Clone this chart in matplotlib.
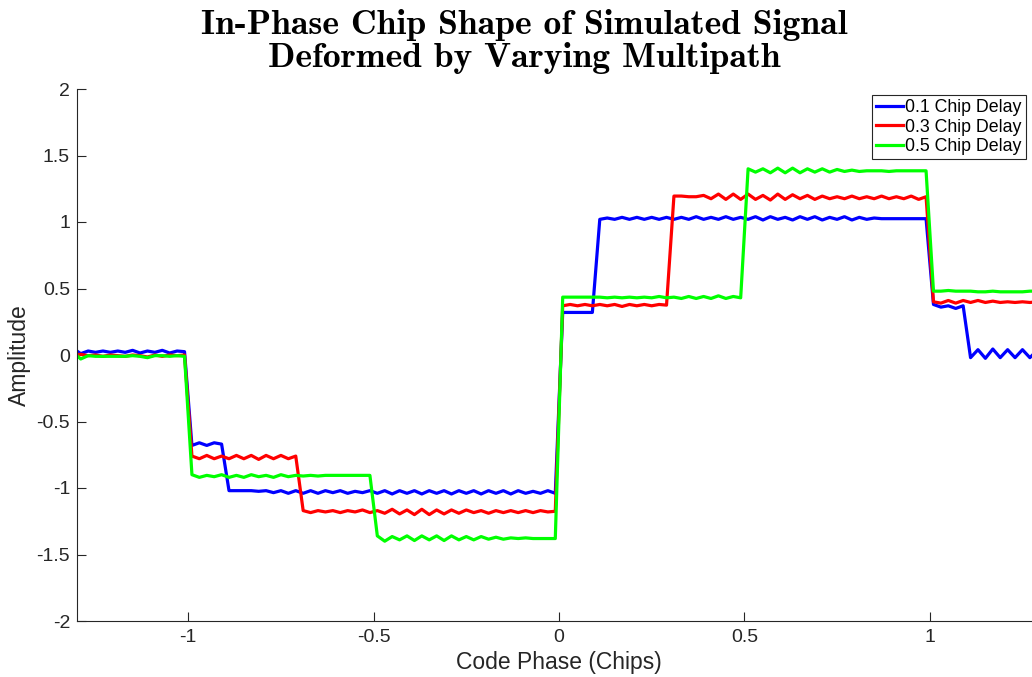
import matplotlib
matplotlib.use("Agg")
import matplotlib.pyplot as plt
import numpy as np

# code phase sample grid (chips), 0.02 chip spacing
phase = np.linspace(-1.31, 1.31, 132)

# in-phase amplitude per delay, grouped by chip segment
blue = [0.05, 0.01, 0.03, 0.02, 0.03, 0.02, 0.03, 0.02, 0.035, 0.015, 0.03, 0.02, 0.035, 0.015, 0.03, 0.025,
        -0.68, -0.66, -0.68, -0.66, -0.67,
        -1.02, -1.02, -1.02, -1.02, -1.025, -1.02, -1.035, -1.02, -1.04, -1.02,
        -1.04, -1.02, -1.04, -1.02, -1.035, -1.02, -1.04, -1.025, -1.035, -1.02,
        -1.04, -1.02, -1.045, -1.02, -1.04, -1.02, -1.045, -1.02, -1.04, -1.02, -1.045, -1.02, -1.04,
        -1.02, -1.045, -1.02, -1.04, -1.02, -1.045, -1.02, -1.04, -1.025, -1.04, -1.02, -1.04,
        0.32, 0.32, 0.32, 0.32, 0.32,
        1.02, 1.03, 1.02, 1.035, 1.02, 1.035, 1.02, 1.035, 1.02, 1.035,
        1.02, 1.035, 1.02, 1.04, 1.02, 1.035, 1.02, 1.04, 1.02, 1.035,
        1.02, 1.04, 1.015, 1.04, 1.02, 1.035, 1.015, 1.04, 1.02, 1.04, 1.015, 1.035, 1.02,
        1.04, 1.015, 1.035, 1.02, 1.03, 1.025, 1.025, 1.025, 1.025, 1.025, 1.025, 1.025,
        0.38, 0.36, 0.37, 0.35, 0.37,
        -0.02, 0.04, -0.025, 0.045, -0.02, 0.04, -0.02, 0.04, -0.02, 0.035, -0.01]

red = [0.0, 0.005, -0.005, 0.0, -0.01, 0.0, -0.005, -0.01, 0.0, -0.005, -0.015, 0.0, -0.01, 0.0, -0.005, 0.0,
       -0.76, -0.78, -0.755, -0.78, -0.76,
       -0.78, -0.755, -0.78, -0.755, -0.785, -0.755, -0.78, -0.755, -0.78, -0.76,
       -1.17, -1.185, -1.17, -1.18, -1.17, -1.185, -1.17, -1.18, -1.165, -1.185,
       -1.17, -1.19, -1.16, -1.195, -1.165, -1.2, -1.16, -1.2, -1.165, -1.195, -1.165, -1.19, -1.165,
       -1.185, -1.17, -1.19, -1.17, -1.185, -1.17, -1.185, -1.17, -1.185, -1.17, -1.18, -1.175,
       0.37, 0.38, 0.37, 0.38, 0.37,
       0.38, 0.37, 0.38, 0.365, 0.38, 0.37, 0.38, 0.37, 0.38, 0.375,
       1.195, 1.195, 1.19, 1.19, 1.2, 1.175, 1.21, 1.17, 1.21, 1.17,
       1.21, 1.17, 1.2, 1.165, 1.21, 1.17, 1.205, 1.175, 1.2, 1.17, 1.195, 1.175, 1.19,
       1.175, 1.195, 1.175, 1.19, 1.175, 1.195, 1.175, 1.19, 1.175, 1.195, 1.17, 1.19,
       0.4, 0.39, 0.41, 0.39, 0.41,
       0.395, 0.41, 0.395, 0.405, 0.395, 0.4, 0.395, 0.4, 0.395, 0.4, 0.39]

green = [0.02, -0.03, -0.005, -0.01, -0.01, -0.01, -0.01, -0.01, -0.005, -0.01, -0.02, -0.005, -0.005, -0.01, -0.005, -0.01,
         -0.9, -0.92, -0.905, -0.915, -0.9,
         -0.92, -0.905, -0.92, -0.9, -0.915, -0.905, -0.92, -0.9, -0.915, -0.905,
         -0.91, -0.905, -0.91, -0.905, -0.905, -0.905, -0.905, -0.905, -0.905, -0.905,
         -1.36, -1.4, -1.365, -1.39, -1.36, -1.395, -1.36, -1.39, -1.36, -1.395, -1.36, -1.39, -1.365,
         -1.39, -1.365, -1.385, -1.37, -1.385, -1.375, -1.38, -1.375, -1.38, -1.38, -1.38, -1.38,
         0.435, 0.435, 0.435, 0.435, 0.435,
         0.435, 0.43, 0.435, 0.43, 0.435, 0.43, 0.435, 0.43, 0.44, 0.43,
         0.435, 0.425, 0.44, 0.425, 0.44, 0.425, 0.445, 0.425, 0.44, 0.43,
         1.4, 1.375, 1.4, 1.37, 1.405, 1.37, 1.405, 1.37, 1.4, 1.375, 1.4, 1.375, 1.395,
         1.38, 1.39, 1.38, 1.385, 1.385, 1.385, 1.38, 1.385, 1.385, 1.385, 1.385, 1.385,
         0.48, 0.48, 0.485, 0.48, 0.48,
         0.48, 0.475, 0.475, 0.48, 0.475, 0.475, 0.475, 0.475, 0.48, 0.48, 0.475]

labels = ["0.1 Chip Delay", "0.3 Chip Delay", "0.5 Chip Delay"]
colors = [(0, 0, 1), (1, 0, 0), (0, 1, 0)]
xticks = [-1, -0.5, 0, 0.5, 1]
yticks = [-2, -1.5, -1, -0.5, 0, 0.5, 1, 1.5, 2]

plt.rcParams['font.family'] = ['Liberation Sans', 'DejaVu Sans']

W, H = 1032, 677
fig = plt.figure(figsize=(W / 100, H / 100), dpi=100)
ax = fig.add_axes([77 / W, (H - 621) / H, (1041 - 77) / W, (621 - 89) / H])

for ys, c, lab in zip([blue, red, green], colors, labels):
    ax.plot(phase, ys, color=c, lw=2.3, label=lab)

ax.set_xlim(-1.3, 1.3)
ax.set_ylim(-2, 2)
ax.set_xticks(xticks)
ax.set_xticklabels([("%g" % t) for t in xticks])
ax.set_yticks(yticks)
ax.set_yticklabels([("%g" % t) for t in yticks])
ax.spines['top'].set_visible(False)
ax.spines['right'].set_visible(False)
for s in ['left', 'bottom']:
    ax.spines[s].set_linewidth(0.8)
    ax.spines[s].set_color('#262626')
ax.tick_params(direction='in', length=6.5, width=0.8, labelsize=14, colors='#262626')
ax.tick_params(axis='x', pad=6)
ax.tick_params(axis='y', pad=5)
ax.set_xlabel("Code Phase (Chips)", fontsize=16.5, color='#262626', labelpad=3)
ax.set_ylabel("Amplitude", fontsize=16.5, color='#262626', labelpad=4)

fig.text((200 + 848) / 2 / W, 1 - 9 / H,
         "In-Phase Chip Shape of Simulated Signal\nDeformed by Varying Multipath",
         ha='center', va='top', fontsize=25.7, family='cmb10', linespacing=1.05)

leg = ax.legend(loc='upper left', bbox_to_anchor=(872 / W, 1 - 95 / H), bbox_transform=fig.transFigure,
                fontsize=12.8, handlelength=1.55, handletextpad=0.1, borderpad=0.22,
                labelspacing=0.15, borderaxespad=0, fancybox=False, framealpha=1)
leg.get_frame().set_edgecolor('#262626')
leg.get_frame().set_linewidth(0.8)

fig.savefig("out.png", dpi=100)
